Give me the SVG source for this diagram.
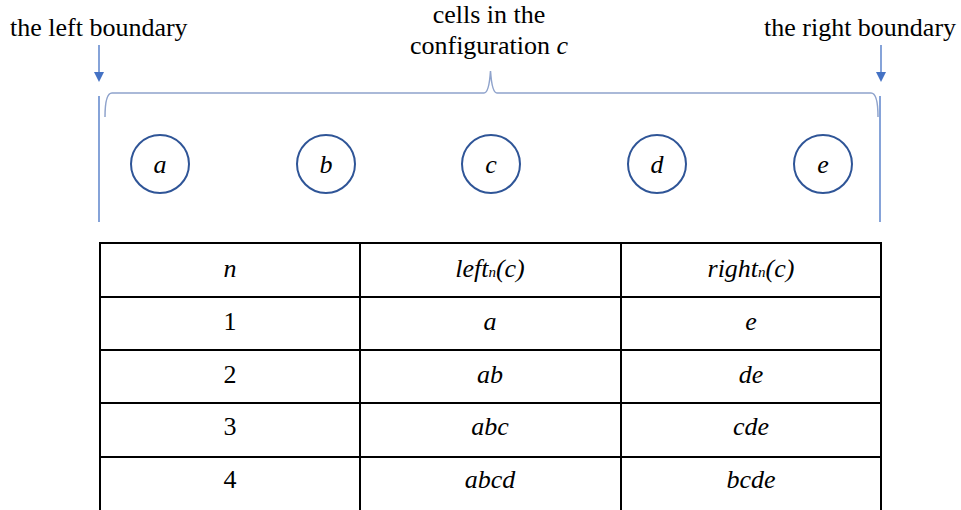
<svg xmlns="http://www.w3.org/2000/svg" width="961" height="510" viewBox="0 0 961 510">
<style>
text{font-family:'Liberation Serif','Times New Roman',serif;font-size:26px;fill:#000}
.i{font-style:italic}
.m{text-anchor:middle}
.sub{font-size:15px}
.cell{fill:#fff;stroke:#2F5597;stroke-width:2}
.bd{stroke:#4472C4;stroke-width:1.3;fill:none}
.br{stroke:#8FA3CC;stroke-width:1.5;fill:none}
.tb{stroke:#000;stroke-width:2;fill:none}
.arr{stroke:#4472C4;stroke-width:1.3;fill:none}
</style>
<rect width="961" height="510" fill="#fff"/>
<text x="10" y="36">the left boundary</text>
<text class="m" x="489" y="23">cells in the</text>
<text class="m" x="489" y="54">configuration <tspan class="i">c</tspan></text>
<text x="764" y="36">the right boundary</text>
<g id="connectors">
<path class="arr" d="M99,45 V73"/>
<path d="M94,72 L104,72 L99,82 Z" fill="#4472C4"/>
<path class="arr" d="M881,45 V73"/>
<path d="M876,72 L886,72 L881,82 Z" fill="#4472C4"/>
<path class="bd" d="M99,96 V222"/>
<path class="bd" d="M880,96 V222"/>
<path class="br" d="M105,117 Q105,93 112,93 H484 Q489,93 490.5,71 Q492,93 497,93 H871 Q878,93 878,117"/>
</g>
<g id="a"><circle class="cell" cx="160" cy="164" r="29"/><text class="i m" x="160" y="173">a</text></g>
<g id="b"><circle class="cell" cx="326" cy="164" r="29"/><text class="i m" x="326" y="173">b</text></g>
<g id="c"><circle class="cell" cx="491" cy="164" r="29"/><text class="i m" x="491" y="173">c</text></g>
<g id="d"><circle class="cell" cx="657" cy="164" r="29"/><text class="i m" x="657" y="173">d</text></g>
<g id="e"><circle class="cell" cx="823" cy="164" r="29"/><text class="i m" x="823" y="173">e</text></g>
<g id="table">
<rect class="tb" x="100" y="243" width="781" height="280"/>
<path class="tb" d="M360,243 V510 M621,243 V510 M100,297 H881 M100,350 H881 M100,403 H881 M100,457 H881"/>
<text class="i m" x="230" y="277">n</text>
<text class="i m" x="490" y="277">left<tspan class="sub">n</tspan>(c)</text>
<text class="i m" x="751" y="277">right<tspan class="sub">n</tspan>(c)</text>
<text class="m" x="230" y="330">1</text>
<text class="i m" x="490" y="330">a</text>
<text class="i m" x="751" y="330">e</text>
<text class="m" x="230" y="383">2</text>
<text class="i m" x="490" y="383">ab</text>
<text class="i m" x="751" y="383">de</text>
<text class="m" x="230" y="435">3</text>
<text class="i m" x="490" y="435">abc</text>
<text class="i m" x="751" y="435">cde</text>
<text class="m" x="230" y="488">4</text>
<text class="i m" x="490" y="488">abcd</text>
<text class="i m" x="751" y="488">bcde</text>
</g>
</svg>
